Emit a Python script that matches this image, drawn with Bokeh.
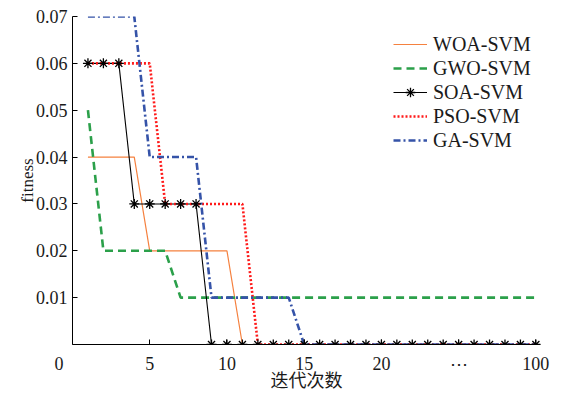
from bokeh.plotting import figure
from bokeh.models import (Range1d, FixedTicker, Legend, LegendItem)
from bokeh.embed import file_html
from bokeh.resources import INLINE

# ---- data ----
iters = [1, 2, 3, 4, 5, 6, 7, 8, 9, 10, 11, 12, 13, 14, 15,
         16, 17, 18, 19, 20, 21, 22, 23, 24, 25, 26, 27, 28, 29, 30]
woa = [0.04, 0.04, 0.04, 0.04, 0.02, 0.02, 0.02, 0.02, 0.02, 0.02,
       0, 0, 0, 0, 0, 0, 0, 0, 0, 0, 0, 0, 0, 0, 0, 0, 0, 0, 0, 0]
gwo = [0.05, 0.02, 0.02, 0.02, 0.02, 0.02, 0.01, 0.01, 0.01, 0.01,
       0.01, 0.01, 0.01, 0.01, 0.01, 0.01, 0.01, 0.01, 0.01, 0.01,
       0.01, 0.01, 0.01, 0.01, 0.01, 0.01, 0.01, 0.01, 0.01, 0.01]
soa = [0.06, 0.06, 0.06, 0.03, 0.03, 0.03, 0.03, 0.03, 0, 0,
       0, 0, 0, 0, 0, 0, 0, 0, 0, 0, 0, 0, 0, 0, 0, 0, 0, 0, 0, 0]
pso = [0.06, 0.06, 0.06, 0.06, 0.06, 0.03, 0.03, 0.03, 0.03, 0.03,
       0.03, 0, 0, 0, 0, 0, 0, 0, 0, 0, 0, 0, 0, 0, 0, 0, 0, 0, 0, 0]
ga = [0.07, 0.07, 0.07, 0.07, 0.04, 0.04, 0.04, 0.04, 0.01, 0.01,
      0.01, 0.01, 0.01, 0.01, 0, 0, 0, 0, 0, 0, 0, 0, 0, 0, 0, 0, 0, 0, 0, 0]
x_ticks = [0, 5, 10, 15, 20, 25, 30]
# the "0" label sits left of the axis corner in the original (padded with nbsp)
x_tick_labels = ["0" + "\u00a0" * 6, "5", "10", "15", "20", "\u22ef", "100"]
y_ticks = [0.01, 0.02, 0.03, 0.04, 0.05, 0.06, 0.07]

SERIF = "Liberation Serif"
TXT = "#1a1a1a"

p = figure(width=562, height=395, output_backend="svg", toolbar_location=None,
           x_range=Range1d(0, 30.3), y_range=Range1d(0, 0.07),
           min_border_left=72, min_border_right=22, min_border_top=16,
           min_border_bottom=51)
p.outline_line_color = None
p.grid.visible = False
p.background_fill_color = "white"
p.border_fill_color = "white"

r_woa = p.line(iters, woa, line_color="#F5813F", line_width=1.2)
r_gwo = p.line(iters, gwo, line_color="#2BA04A", line_width=2.6, line_dash="8 5")
r_soa_l = p.line(iters, soa, line_color="black", line_width=1.1)
r_pso = p.line(iters, pso, line_color="#FF1A1A", line_width=2.6, line_dash="2 2")
r_ga = p.line(iters, ga, line_color="#3553A8", line_width=2.6, line_dash="7 3 2 3")
r_soa_m = p.scatter(iters, soa, marker="asterisk", size=10, line_color="black",
                    line_width=1.3)

# axes
for ax in (p.xaxis[0], p.yaxis[0]):
    ax.major_tick_in = 5
    ax.major_tick_out = 0
    ax.minor_tick_line_color = None
    ax.axis_line_color = "black"
    ax.major_tick_line_color = "black"
    ax.major_label_text_font = SERIF
    ax.major_label_text_font_size = "18px"
    ax.major_label_text_color = TXT
    ax.axis_label_text_font = "Noto Sans CJK SC"
    ax.axis_label_text_font_style = "normal"
    ax.axis_label_text_color = TXT

p.xaxis.ticker = FixedTicker(ticks=x_ticks)
p.xaxis.major_label_overrides = {t: l for t, l in zip(x_ticks, x_tick_labels)}
p.xaxis.major_label_standoff = 9
p.xaxis.axis_label = "迭代次数"
p.xaxis.axis_label_text_font_size = "18px"
p.xaxis.axis_label_standoff = -11

p.yaxis.ticker = FixedTicker(ticks=y_ticks)
p.yaxis.formatter.use_scientific = False
p.yaxis.major_label_standoff = 5
p.yaxis.axis_label = "fitness"
p.yaxis.axis_label_text_font = SERIF
p.yaxis.axis_label_text_font_size = "17px"
p.yaxis.axis_label_standoff = -4

legend = Legend(items=[
    LegendItem(label="WOA-SVM", renderers=[r_woa]),
    LegendItem(label="GWO-SVM", renderers=[r_gwo]),
    LegendItem(label="SOA-SVM", renderers=[r_soa_l, r_soa_m]),
    LegendItem(label="PSO-SVM", renderers=[r_pso]),
    LegendItem(label="GA-SVM", renderers=[r_ga]),
], location=(321, 192))
legend.border_line_color = None
legend.background_fill_alpha = 0
legend.padding = 0
legend.margin = 0
legend.spacing = 0
legend.glyph_width = 34
legend.glyph_height = 24
legend.label_height = 24
legend.label_standoff = 6
legend.label_text_font = SERIF
legend.label_text_font_size = "20px"
legend.label_text_color = TXT
p.add_layout(legend)

open("out.html", "w").write(file_html(p, INLINE))
